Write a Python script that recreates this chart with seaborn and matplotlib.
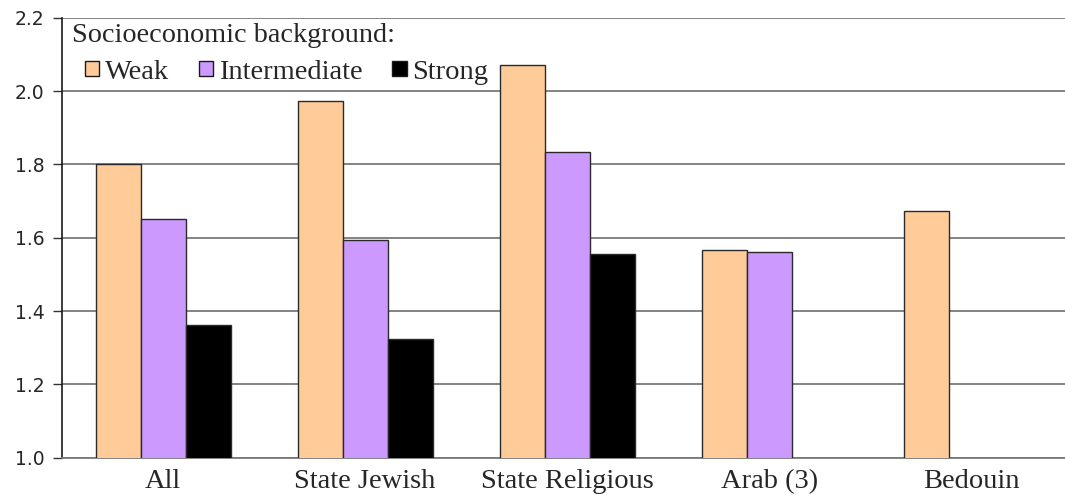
import numpy as np
import pandas as pd
import matplotlib
matplotlib.use("Agg")
import matplotlib.pyplot as plt
from matplotlib.patches import Patch
import seaborn as sns

# Average values by school sector and socioeconomic background
sectors = ["All", "State Jewish", "State Religious", "Arab (3)", "Bedouin"]
backgrounds = ["Weak", "Intermediate", "Strong"]
weak = [1.80, 1.974, 2.07, 1.566, 1.673]
intermediate = [1.65, 1.593, 1.833, 1.56, np.nan]
strong = [1.362, 1.324, 1.555, np.nan, np.nan]
y_ticks = [1.0, 1.2, 1.4, 1.6, 1.8, 2.0, 2.2]
colors = ["#FFCC99", "#CC99FF", "#000000"]

df = pd.DataFrame({
    "sector": sectors * 3,
    "background": ["Weak"] * 5 + ["Intermediate"] * 5 + ["Strong"] * 5,
    "value": weak + intermediate + strong,
}).dropna()

sns.set_style("white")
plt.rcParams["font.family"] = ["Liberation Serif", "DejaVu Serif"]

W, H = 1065, 497
fig = plt.figure(figsize=(W / 100, H / 100), dpi=100)
ax = fig.add_axes([62 / W, 39.3 / H, 1010.5 / W, 440 / H])

sns.barplot(data=df, x="sector", y="value", hue="background",
            order=sectors, hue_order=backgrounds, palette=colors,
            saturation=1, width=0.668, gap=0, edgecolor="#2a2a2a",
            linewidth=1.0, errorbar=None, legend=False, ax=ax, zorder=3)

ax.set_ylim(1.0, 2.2)
ax.set_xlim(-0.5, 4.5)
ax.set_yticks(y_ticks)
ax.set_yticklabels([f"{t:.1f}" for t in y_ticks],
                   fontfamily="DejaVu Sans", fontsize=13.5)
ax.set_xlabel("")
ax.set_ylabel("")
ax.tick_params(axis="x", length=0, pad=8, labelsize=20.5)
ax.tick_params(axis="y", length=6.5, width=1, color="#333333",
               direction="out", pad=6, left=True)
for lbl in ax.get_xticklabels():
    lbl.set_fontfamily("Liberation Serif")

ax.yaxis.grid(True, color="#7a7a7a", linewidth=1.3, zorder=0)
ax.set_axisbelow(True)
for side in ["top", "right"]:
    ax.spines[side].set_visible(False)
ax.spines["left"].set_color("#1a1a1a")
ax.spines["left"].set_linewidth(1.2)
ax.spines["bottom"].set_color("#7a7a7a")
ax.spines["bottom"].set_linewidth(1.3)

# Legend title and entries
fig.text(72 / W, 1 - 35 / H, "Socioeconomic background:", fontsize=20.3,
         va="center", ha="left")
handles = [Patch(facecolor=c, edgecolor="#1a1a1a", linewidth=1.0)
           for c in colors]
leg = fig.legend(handles, backgrounds, ncol=3, loc="center left",
                 bbox_to_anchor=(85 / W, 1 - 72 / H), frameon=False,
                 fontsize=20.5, handlelength=0.5, handleheight=0.45,
                 handletextpad=0.2, columnspacing=1.05, borderpad=0,
                 borderaxespad=0)

fig.savefig("out.png", dpi=100)
